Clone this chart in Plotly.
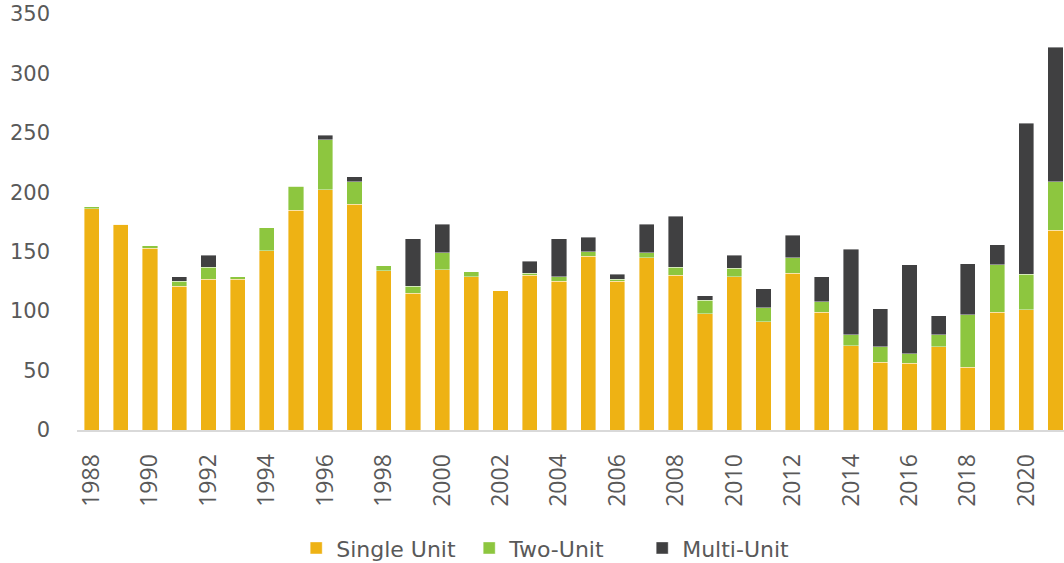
import plotly.graph_objects as go

years = list(range(1988, 2022))
single_unit = [186, 173, 153, 121, 127, 127, 151, 185, 202, 190, 134, 115, 135, 129, 117,
               130, 125, 146, 125, 145, 130, 98, 129, 91, 132, 99, 71, 57, 56, 70, 53, 99, 101, 168]
two_unit = [2, 0, 2, 4, 10, 2, 19, 20, 42, 19, 4, 6, 14, 4, 0,
            2, 4, 4, 2, 4, 7, 11, 7, 12, 13, 9, 9, 13, 8, 10, 44, 40, 30, 41]
multi_unit = [0, 0, 0, 4, 10, 0, 0, 0, 4, 4, 0, 40, 24, 0, 0,
              10, 32, 12, 4, 24, 43, 4, 11, 16, 19, 21, 72, 32, 75, 16, 43, 17, 127, 113]
tick_years = list(range(1988, 2022, 2))
y_ticks = [0, 50, 100, 150, 200, 250, 300, 350]

series = [
    ("Single Unit", single_unit, "#EEB214"),
    ("Two-Unit", two_unit, "#8DC63F"),
    ("Multi-Unit", multi_unit, "#404041"),
]

fig = go.Figure()
for name, vals, color in series:
    fig.add_trace(go.Bar(
        x=years, y=vals, name=name, width=0.52,
        marker=dict(color=color, line=dict(color="rgba(255,255,255,0.5)", width=0.8)),
    ))

text_color = "#595959"

fig.update_layout(
    template="none",
    barmode="stack",
    width=1064, height=563,
    margin=dict(l=77, r=0, t=13.5, b=133, autoexpand=False),
    paper_bgcolor="white", plot_bgcolor="white",
    font=dict(family="DejaVu Sans", color=text_color, size=20),
    showlegend=True,
    legend=dict(orientation="h", x=0.485, xanchor="center", y=-0.284, yanchor="middle",
                traceorder="normal", itemwidth=30, entrywidth=128,
                font=dict(family="DejaVu Sans", size=22, color=text_color)),
    xaxis=dict(
        range=[1987.5, 2021.29], tickmode="array", tickvals=tick_years,
        ticktext=[str(y) for y in tick_years], tickangle=-90,
        showgrid=False, zeroline=False, showline=True, linecolor="#D9D9D9", linewidth=2,
        ticks="", automargin=False,
        tickfont=dict(family="Open Sans", size=23, color=text_color), ticklabelstandoff=13,
    ),
    yaxis=dict(
        range=[0, 350], tickmode="array", tickvals=y_ticks,
        showgrid=False, zeroline=False, showline=False, ticks="", automargin=False,
        ticklabeloverflow="allow",
        tickfont=dict(family="DejaVu Sans", size=21, color=text_color), ticklabelstandoff=26,
    ),
)

fig.write_html("out.html", config={"displayModeBar": False},
               post_script="document.body.style.margin='0';")
